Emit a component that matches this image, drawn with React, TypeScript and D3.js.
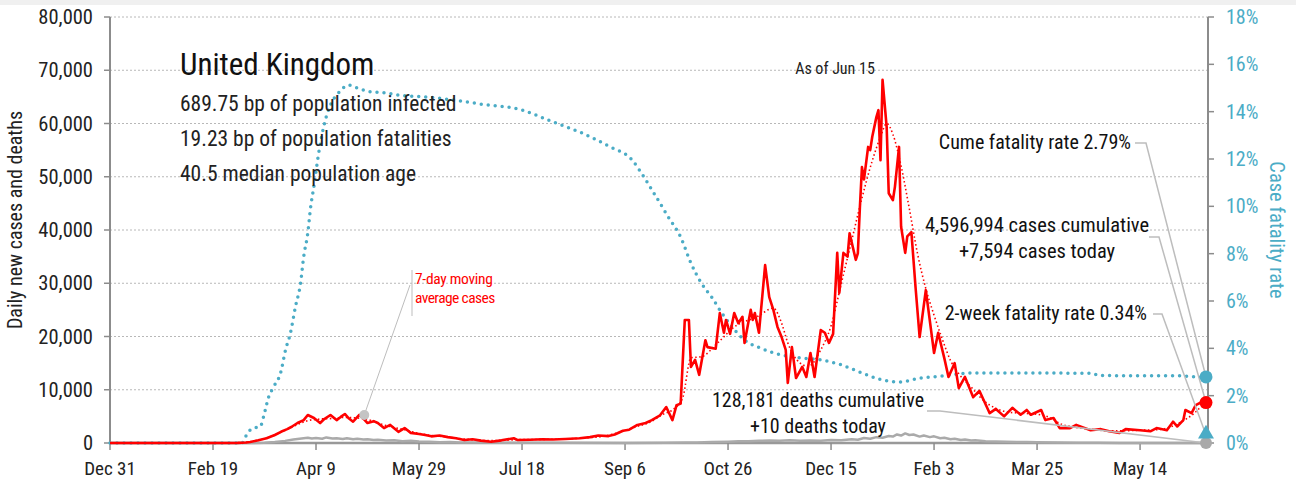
import React, { useRef, useEffect } from 'react'
import * as d3 from 'd3'

// days counted from Dec 31, 2019
const START = new Date(2019, 11, 31)
const LAST_DAY = 532 // Jun 15, 2021

const xTickLabels = ['Dec 31', 'Feb 19', 'Apr 9', 'May 29', 'Jul 18', 'Sep 6', 'Oct 26', 'Dec 15', 'Feb 3', 'Mar 25', 'May 14']
const leftTicks = [0, 10000, 20000, 30000, 40000, 50000, 60000, 70000, 80000]
const rightTicks = [0, 2, 4, 6, 8, 10, 12, 14, 16, 18]

const statLines = [
  '689.75 bp of population infected',
  '19.23 bp of population fatalities',
  '40.5 median population age'
]

const dailyCases: [number, number][] = [
  [0, 0], [55, 0], [62, 30], [66, 100], [68, 200], [72, 500], [76, 900], [80, 1500], [83, 2100], [86, 2600],
  [88, 3000], [91, 3750], [94, 4300], [96, 5260], [99, 4700], [102, 3750], [104, 4500], [107, 5260], [110, 4300],
  [112, 4900], [114, 5450], [116, 4600], [118, 4000], [121, 5260], [123, 4600], [125, 3750], [128, 4100], [130, 3750],
  [133, 2800], [136, 3400], [140, 2100], [143, 2800], [146, 1900], [150, 1700], [153, 1500], [156, 1250], [160, 1400],
  [164, 1100], [168, 900], [172, 560], [176, 700], [180, 450], [185, 250], [190, 500], [196, 900], [198, 550],
  [204, 600], [210, 700], [215, 650], [221, 750], [228, 900], [233, 1100], [237, 1400], [242, 1300], [245, 1600],
  [249, 2300], [252, 2500], [256, 3400], [260, 3750], [263, 4300], [267, 5200], [270, 6760], [273, 4300], [275, 7100],
  [277, 7400], [279, 23100], [281, 23100], [282, 14300], [284, 15600], [286, 12800], [289, 19300], [290, 18000],
  [294, 17700], [296, 24400], [298, 20700], [299, 23100], [301, 20500], [303, 24400], [305, 22500], [307, 23700],
  [308, 18800], [311, 25000], [312, 23100], [313, 24400], [315, 20700], [318, 33400], [320, 27400], [322, 25000],
  [324, 21800], [326, 19900], [328, 17500], [329, 11300], [331, 18000], [333, 12200], [336, 14300], [338, 12400],
  [340, 16900], [342, 12400], [345, 21200], [347, 20700], [349, 18800], [351, 20500], [353, 35700], [354, 28200],
  [356, 35700], [358, 35000], [359, 39400], [362, 34400], [363, 35600], [364, 44300], [365, 51800], [366, 49500],
  [368, 55600], [369, 55000], [370, 57500], [372, 61200], [373, 62500], [374, 53100], [375, 68200], [377, 59300],
  [378, 46900], [380, 45600], [381, 48100], [383, 55600], [384, 40600], [386, 35700], [387, 38800], [389, 39600],
  [391, 29300], [393, 19900], [396, 28700], [400, 16900], [402, 20700], [405, 15900], [407, 12400], [410, 15000],
  [412, 10300], [415, 12400], [419, 8600], [422, 9800], [427, 5600], [430, 6400], [434, 5000], [438, 6600],
  [442, 5300], [445, 6200], [447, 5300], [452, 6200], [454, 4300], [458, 4700], [461, 2800], [466, 2800],
  [469, 3400], [476, 2400], [481, 2600], [485, 2200], [490, 1900], [493, 2600], [500, 2400], [505, 2200],
  [508, 2800], [513, 2400], [516, 4000], [518, 3100], [521, 4300], [522, 6200], [525, 5600], [527, 7100],
  [530, 7700], [532, 7594]
]

const movingAvg: [number, number][] = [
  [0, 0], [60, 0], [66, 100], [72, 500], [78, 1200], [84, 2200], [90, 3300], [96, 4200], [102, 4500], [108, 4600],
  [114, 4800], [120, 4700], [126, 4300], [132, 3500], [138, 2900], [144, 2400], [150, 1800], [156, 1400], [162, 1200],
  [168, 900], [175, 650], [182, 450], [190, 500], [200, 650], [210, 680], [220, 750], [230, 950], [240, 1300],
  [248, 2100], [255, 3000], [262, 3900], [268, 5300], [274, 6500], [278, 8500], [282, 16000], [287, 16200],
  [295, 18800], [303, 21800], [314, 23700], [322, 25300], [326, 22500], [329, 18800], [335, 15000], [339, 14400],
  [345, 17500], [350, 22000], [355, 30000], [360, 38000], [365, 46000], [370, 53000], [374, 57500], [377, 60000],
  [380, 58000], [384, 52000], [388, 44000], [392, 35500], [396, 29000], [400, 24000], [404, 19500], [408, 15500],
  [412, 13000], [418, 10500], [424, 8000], [430, 6500], [436, 5800], [442, 5600], [450, 5400], [456, 4800],
  [462, 3500], [468, 3000], [476, 2600], [484, 2300], [492, 2300], [500, 2400], [508, 2500], [514, 2900],
  [520, 4000], [526, 5500], [530, 7000]
]

const dailyDeaths: [number, number][] = [
  [0, 0], [70, 0], [75, 50], [80, 200], [85, 400], [89, 650], [92, 800], [96, 1000], [98, 850], [100, 950],
  [103, 800], [105, 1050], [108, 850], [110, 900], [113, 750], [115, 900], [118, 700], [120, 800], [123, 650],
  [125, 700], [128, 550], [130, 600], [134, 450], [138, 500], [142, 350], [146, 400], [150, 300], [155, 250],
  [160, 150], [165, 180], [170, 100], [180, 80], [190, 60], [200, 50], [220, 30], [250, 20], [270, 50], [280, 80],
  [285, 100], [292, 180], [300, 250], [305, 320], [310, 350], [315, 420], [320, 450], [325, 400], [330, 500],
  [335, 420], [340, 450], [345, 400], [350, 550], [355, 500], [360, 700], [363, 600], [366, 950], [369, 800],
  [372, 1100], [375, 1000], [378, 1300], [380, 1200], [382, 1600], [384, 1400], [386, 1800], [388, 1500],
  [390, 1600], [393, 1200], [395, 1400], [398, 1100], [400, 1250], [403, 900], [405, 1000], [408, 700],
  [410, 800], [413, 550], [415, 650], [418, 450], [420, 500], [425, 350], [430, 300], [435, 250], [440, 200],
  [445, 180], [450, 150], [460, 80], [470, 40], [480, 30], [490, 20], [510, 15], [532, 10]
]

const fatalityRate: [number, number][] = [
  [0, 0], [64, 0], [67, 0.46], [70, 0.63], [73, 0.7], [74.5, 1.1], [77, 1.94], [79.4, 2.37], [82.8, 2.96],
  [85.2, 3.93], [87.6, 4.65], [90, 5.75], [92.5, 6.76], [94, 7.86], [96, 8.87], [97.4, 9.97], [98.9, 10.8],
  [101.3, 12.25], [103.7, 13.35], [107, 14.28], [111, 14.8], [116, 15.12], [120, 15.0], [127, 14.83], [133, 14.8],
  [140, 14.7], [156, 14.6], [170, 14.45], [180, 14.32], [200, 14.07], [214, 13.6], [229, 13.1], [243, 12.5],
  [253, 12.0], [258, 11.4], [264, 10.56], [271, 9.55], [277, 8.7], [282, 7.6], [287, 6.76], [292, 6.17],
  [297, 5.49], [302, 4.9], [308, 4.35], [316, 4.0], [326, 3.72], [336, 3.59], [346, 3.5], [355, 3.3],
  [365, 2.96], [375, 2.66], [383, 2.58], [394, 2.75], [404, 2.83], [419, 2.96], [443, 2.96], [477, 2.94],
  [480, 2.85], [518, 2.84], [526, 2.8], [532, 2.79]
]

const twoWeekRate = 0.34

const FONT = "'Liberation Sans Narrow', 'Roboto Condensed', 'DejaVu Sans Condensed', 'Arial Narrow', sans-serif"
const RED = '#ff0000'
const BLUE = '#4bacc6'
const GRAY = '#aaaaaa'
const LEADER = '#bdbdbd'

const W = 1296
const H = 484
const X0 = 110
const X1 = 1206
const Y0 = 443
const Y1 = 17

const toDate = (d: number) => new Date(START.getTime() + d * 864e5)

const App: React.FC = () => {
  const svgRef = useRef<SVGSVGElement>(null)

  useEffect(() => {
    if (!svgRef.current) return
    document.body.style.margin = '0'

    const svg = d3.select(svgRef.current)
    svg.selectAll('*').remove()

    const x = d3.scaleTime().domain([START, toDate(LAST_DAY)]).range([X0, X1])
    const yL = d3.scaleLinear().domain([0, 80000]).range([Y0, Y1])
    const yR = d3.scaleLinear().domain([0, 18]).range([Y0, Y1])

    svg.append('rect').attr('width', W).attr('height', 5).attr('fill', '#f0f0f0')

    // grid
    svg.append('g').selectAll('line')
      .data(leftTicks.filter(t => t > 0))
      .enter().append('line')
      .attr('x1', X0).attr('x2', X1 + 2)
      .attr('y1', d => yL(d)).attr('y2', d => yL(d))
      .attr('stroke', '#b8b8b8').attr('stroke-width', 1)
      .attr('stroke-dasharray', '2,2')

    // left axis
    const left = svg.append('g')
    left.append('line').attr('x1', X0).attr('x2', X0).attr('y1', Y1).attr('y2', Y0)
      .attr('stroke', '#8c8c8c').attr('stroke-width', 2)
    left.selectAll('.lt').data(leftTicks).enter().append('line')
      .attr('x1', X0 - 6).attr('x2', X0).attr('y1', d => yL(d)).attr('y2', d => yL(d))
      .attr('stroke', '#8c8c8c').attr('stroke-width', 1.5)
    left.selectAll('text').data(leftTicks).enter().append('text')
      .attr('x', X0 - 17).attr('y', d => yL(d)).attr('dy', '0.35em')
      .attr('text-anchor', 'end').attr('font-size', 20.5).attr('fill', '#222')
      .text(d => d3.format(',')(d))

    // right axis
    const right = svg.append('g')
    right.append('line').attr('x1', X1 + 2).attr('x2', X1 + 2).attr('y1', Y1).attr('y2', Y0)
      .attr('stroke', '#8c8c8c').attr('stroke-width', 2)
    right.selectAll('.rt').data(rightTicks).enter().append('line')
      .attr('x1', X1 + 2).attr('x2', X1 + 8).attr('y1', d => yR(d)).attr('y2', d => yR(d))
      .attr('stroke', '#8c8c8c').attr('stroke-width', 1.5)
    right.selectAll('text').data(rightTicks).enter().append('text')
      .attr('x', X1 + 20).attr('y', d => yR(d)).attr('dy', '0.35em')
      .attr('font-size', 20).attr('fill', BLUE)
      .text(d => `${d}%`)

    // bottom axis
    const bottom = svg.append('g')
    bottom.append('line').attr('x1', X0).attr('x2', X1 + 2).attr('y1', Y0).attr('y2', Y0)
      .attr('stroke', '#999').attr('stroke-width', 2.5)
    const tickDates = xTickLabels.map((_, i) => toDate(i * 50))
    bottom.selectAll('line.bt').data(tickDates).enter().append('line')
      .attr('x1', d => x(d)).attr('x2', d => x(d)).attr('y1', Y0).attr('y2', Y0 + 7)
      .attr('stroke', '#8c8c8c').attr('stroke-width', 1.5)
    bottom.selectAll('text').data(tickDates).enter().append('text')
      .attr('x', d => x(d)).attr('y', 475)
      .attr('text-anchor', 'middle').attr('font-size', 19).attr('fill', '#222')
      .text((_, i) => xTickLabels[i])

    // axis titles
    svg.append('text')
      .attr('transform', `translate(22, 220) rotate(-90)`)
      .attr('text-anchor', 'middle').attr('font-size', 20).attr('fill', '#222')
      .text('Daily new cases and deaths')
    svg.append('text')
      .attr('transform', `translate(1270, 230) rotate(90)`)
      .attr('text-anchor', 'middle').attr('font-size', 20.5).attr('fill', BLUE)
      .text('Case fatality rate')

    const lineL = d3.line<[number, number]>().x(d => x(toDate(d[0]))).y(d => yL(d[1]))
    const lineR = d3.line<[number, number]>().x(d => x(toDate(d[0]))).y(d => yR(d[1]))
      .curve(d3.curveMonotoneX)

    // fatality rate (dotted blue)
    svg.append('path').datum(fatalityRate).attr('d', lineR)
      .attr('fill', 'none').attr('stroke', BLUE).attr('stroke-width', 3.5)
      .attr('stroke-linecap', 'round').attr('stroke-dasharray', '0,7')

    // deaths
    svg.append('path').datum(dailyDeaths).attr('d', lineL)
      .attr('fill', 'none').attr('stroke', GRAY).attr('stroke-width', 2.5)
      .attr('stroke-linejoin', 'round')

    // daily cases
    svg.append('path').datum(dailyCases).attr('d', lineL)
      .attr('fill', 'none').attr('stroke', RED).attr('stroke-width', 2.6)
      .attr('stroke-linejoin', 'round')

    // 7-day average
    svg.append('path').datum(movingAvg).attr('d', lineL.curve(d3.curveMonotoneX))
      .attr('fill', 'none').attr('stroke', RED).attr('stroke-width', 1.6)
      .attr('stroke-dasharray', '1.5,2.5')

    // headline text
    svg.append('text').attr('x', 180).attr('y', 75)
      .attr('font-size', 31).attr('fill', '#111').text('United Kingdom')
    svg.selectAll('.stat').data(statLines).enter().append('text')
      .attr('x', 180).attr('y', (_, i) => 111 + i * 35)
      .attr('font-size', 21.5).attr('fill', '#222')
      .text(d => d)

    svg.append('text').attr('x', 835).attr('y', 74).attr('text-anchor', 'middle')
      .attr('font-size', 16).attr('fill', '#222').text('As of Jun 15')

    // 7-day moving average label
    const peakDay = 121
    const peakX = x(toDate(peakDay)) + 5
    const peakY = yL(5260) + 0
    svg.append('line').attr('x1', 412).attr('x2', 412).attr('y1', 270).attr('y2', 316)
      .attr('stroke', LEADER).attr('stroke-width', 1)
    svg.append('line').attr('x1', 410).attr('y1', 285).attr('x2', peakX).attr('y2', peakY)
      .attr('stroke', LEADER).attr('stroke-width', 1)
    svg.append('circle').attr('cx', peakX).attr('cy', peakY).attr('r', 5).attr('fill', '#c4c4c4')
    svg.append('text').attr('x', 415).attr('y', 284)
      .attr('font-size', 15.5).attr('fill', RED).attr('letter-spacing', -0.3).text('7-day moving')
    svg.append('text').attr('x', 415).attr('y', 303)
      .attr('font-size', 15.5).attr('fill', RED).attr('letter-spacing', -0.6).text('average cases')

    // end markers & annotations
    const endX = x(toDate(LAST_DAY))
    const lastCases = dailyCases[dailyCases.length - 1][1]
    const lastDeaths = dailyDeaths[dailyDeaths.length - 1][1]
    const lastRate = fatalityRate[fatalityRate.length - 1][1]

    const leader = (pts: [number, number][]) => {
      svg.append('path').attr('d', d3.line()(pts))
        .attr('fill', 'none').attr('stroke', LEADER).attr('stroke-width', 1.5)
    }
    leader([[1135, 143], [1146, 143], [endX, yR(lastRate)]])
    leader([[1149, 237], [1159, 237], [endX, yL(lastCases)]])
    leader([[1153, 314], [1162, 314], [endX, yR(twoWeekRate)]])
    leader([[927, 411], [940, 411], [endX, yL(lastDeaths)]])

    svg.append('circle').attr('cx', endX).attr('cy', yL(lastDeaths)).attr('r', 6).attr('fill', '#a9a9a9')
    svg.append('path')
      .attr('d', d3.symbol(d3.symbolTriangle, 110)())
      .attr('transform', `translate(${endX}, ${yR(twoWeekRate) - 1})`)
      .attr('fill', BLUE)
    svg.append('circle').attr('cx', endX).attr('cy', yR(lastRate)).attr('r', 6.5).attr('fill', BLUE)
    svg.append('circle').attr('cx', endX).attr('cy', yL(lastCases)).attr('r', 6.5).attr('fill', RED)

    const note = (tx: number, ty: number, anchor: string, s: string, size = 20) => {
      svg.append('text').attr('x', tx).attr('y', ty).attr('text-anchor', anchor)
        .attr('font-size', size).attr('fill', '#111').text(s)
    }
    note(1131, 149, 'end', `Cume fatality rate ${lastRate}%`)
    note(1037, 232, 'middle', '4,596,994 cases cumulative', 20.5)
    note(1037, 258, 'middle', `+${d3.format(',')(lastCases)} cases today`, 20.5)
    note(1147, 320, 'end', `2-week fatality rate ${twoWeekRate}%`)
    note(818, 407, 'middle', '128,181 deaths cumulative')
    note(818, 433, 'middle', `+${lastDeaths} deaths today`)
  }, [])

  return (
    <div style={{ position: 'absolute', left: 0, top: 0 }}>
      <svg ref={svgRef} width={W} height={H} style={{ display: 'block', background: '#fff', fontFamily: FONT }} />
    </div>
  )
}

export default App
